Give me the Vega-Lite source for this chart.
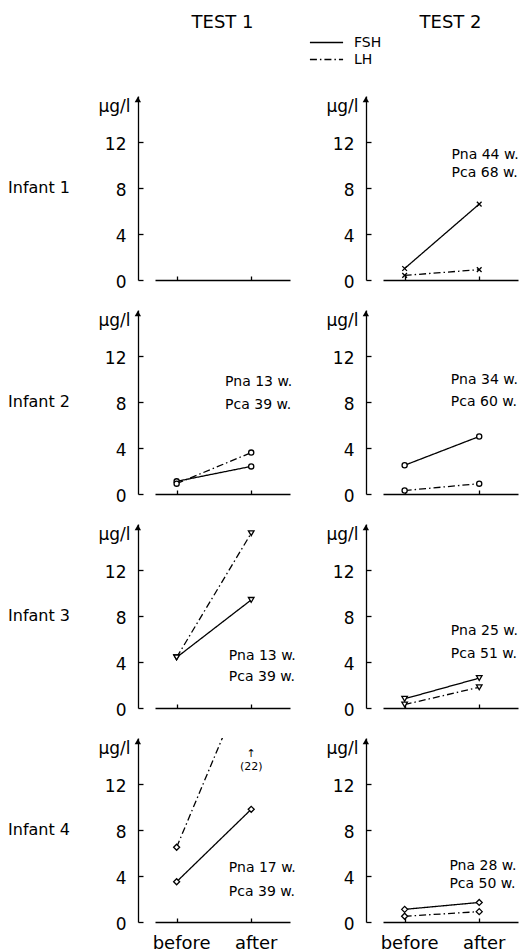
{
  "$schema": "https://vega.github.io/schema/vega-lite/v6.json",
  "background": "white",
  "padding": {"left": 8, "top": 14, "right": 0, "bottom": 0},
  "config": {
    "font": "DejaVu Sans",
    "view": {"stroke": null},
    "axis": {"grid": false, "domainColor": "black", "tickColor": "black", "labelColor": "black", "titleColor": "black", "domainWidth": 1.3, "tickWidth": 1.3},
    "header": {"labelColor": "black"}
  },
  "data": {"values": [
    {"kind": "panel", "infant": "Infant 1", "test": "TEST 1"},
    {"kind": "panel", "infant": "Infant 1", "test": "TEST 2"},
    {"kind": "panel", "infant": "Infant 2", "test": "TEST 1"},
    {"kind": "panel", "infant": "Infant 2", "test": "TEST 2"},
    {"kind": "panel", "infant": "Infant 3", "test": "TEST 1"},
    {"kind": "panel", "infant": "Infant 3", "test": "TEST 2"},
    {"kind": "panel", "infant": "Infant 4", "test": "TEST 1"},
    {"kind": "panel", "infant": "Infant 4", "test": "TEST 2"},
    {"kind": "pt", "infant": "Infant 1", "test": "TEST 2", "hormone": "FSH", "time": 0, "value": 1.0},
    {"kind": "pt", "infant": "Infant 1", "test": "TEST 2", "hormone": "FSH", "time": 1, "value": 6.6},
    {"kind": "pt", "infant": "Infant 1", "test": "TEST 2", "hormone": "LH", "time": 0, "value": 0.4},
    {"kind": "pt", "infant": "Infant 1", "test": "TEST 2", "hormone": "LH", "time": 1, "value": 0.9},
    {"kind": "pt", "infant": "Infant 2", "test": "TEST 1", "hormone": "FSH", "time": 0, "value": 1.1},
    {"kind": "pt", "infant": "Infant 2", "test": "TEST 1", "hormone": "FSH", "time": 1, "value": 2.4},
    {"kind": "pt", "infant": "Infant 2", "test": "TEST 1", "hormone": "LH", "time": 0, "value": 0.9},
    {"kind": "pt", "infant": "Infant 2", "test": "TEST 1", "hormone": "LH", "time": 1, "value": 3.6},
    {"kind": "pt", "infant": "Infant 2", "test": "TEST 2", "hormone": "FSH", "time": 0, "value": 2.5},
    {"kind": "pt", "infant": "Infant 2", "test": "TEST 2", "hormone": "FSH", "time": 1, "value": 5.0},
    {"kind": "pt", "infant": "Infant 2", "test": "TEST 2", "hormone": "LH", "time": 0, "value": 0.3},
    {"kind": "pt", "infant": "Infant 2", "test": "TEST 2", "hormone": "LH", "time": 1, "value": 0.9},
    {"kind": "pt", "infant": "Infant 3", "test": "TEST 1", "hormone": "FSH", "time": 0, "value": 4.4},
    {"kind": "pt", "infant": "Infant 3", "test": "TEST 1", "hormone": "FSH", "time": 1, "value": 9.4},
    {"kind": "pt", "infant": "Infant 3", "test": "TEST 1", "hormone": "LH", "time": 0, "value": 4.4},
    {"kind": "pt", "infant": "Infant 3", "test": "TEST 1", "hormone": "LH", "time": 1, "value": 15.2},
    {"kind": "pt", "infant": "Infant 3", "test": "TEST 2", "hormone": "FSH", "time": 0, "value": 0.8},
    {"kind": "pt", "infant": "Infant 3", "test": "TEST 2", "hormone": "FSH", "time": 1, "value": 2.6},
    {"kind": "pt", "infant": "Infant 3", "test": "TEST 2", "hormone": "LH", "time": 0, "value": 0.3},
    {"kind": "pt", "infant": "Infant 3", "test": "TEST 2", "hormone": "LH", "time": 1, "value": 1.8},
    {"kind": "pt", "infant": "Infant 4", "test": "TEST 1", "hormone": "FSH", "time": 0, "value": 3.5},
    {"kind": "pt", "infant": "Infant 4", "test": "TEST 1", "hormone": "FSH", "time": 1, "value": 9.8},
    {"kind": "pt", "infant": "Infant 4", "test": "TEST 1", "hormone": "LH", "time": 0, "value": 6.5},
    {"kind": "pt", "infant": "Infant 4", "test": "TEST 1", "hormone": "LH", "time": 1, "value": 22},
    {"kind": "pt", "infant": "Infant 4", "test": "TEST 2", "hormone": "FSH", "time": 0, "value": 1.1},
    {"kind": "pt", "infant": "Infant 4", "test": "TEST 2", "hormone": "FSH", "time": 1, "value": 1.7},
    {"kind": "pt", "infant": "Infant 4", "test": "TEST 2", "hormone": "LH", "time": 0, "value": 0.5},
    {"kind": "pt", "infant": "Infant 4", "test": "TEST 2", "hormone": "LH", "time": 1, "value": 0.9},
    {"kind": "note", "infant": "Infant 1", "test": "TEST 2", "time": 0.63, "value": 10.9, "label": "Pna 44 w."},
    {"kind": "note", "infant": "Infant 1", "test": "TEST 2", "time": 0.63, "value": 9.3, "label": "Pca 68 w."},
    {"kind": "note", "infant": "Infant 2", "test": "TEST 1", "time": 0.65, "value": 9.7, "label": "Pna 13 w."},
    {"kind": "note", "infant": "Infant 2", "test": "TEST 1", "time": 0.65, "value": 7.7, "label": "Pca 39 w."},
    {"kind": "note", "infant": "Infant 2", "test": "TEST 2", "time": 0.62, "value": 9.9, "label": "Pna 34 w."},
    {"kind": "note", "infant": "Infant 2", "test": "TEST 2", "time": 0.62, "value": 8.0, "label": "Pca 60 w."},
    {"kind": "note", "infant": "Infant 3", "test": "TEST 1", "time": 0.7, "value": 4.5, "label": "Pna 13 w."},
    {"kind": "note", "infant": "Infant 3", "test": "TEST 1", "time": 0.7, "value": 2.7, "label": "Pca 39 w."},
    {"kind": "note", "infant": "Infant 3", "test": "TEST 2", "time": 0.62, "value": 6.7, "label": "Pna 25 w."},
    {"kind": "note", "infant": "Infant 3", "test": "TEST 2", "time": 0.62, "value": 4.7, "label": "Pca 51 w."},
    {"kind": "note", "infant": "Infant 4", "test": "TEST 1", "time": 0.7, "value": 4.7, "label": "Pna 17 w."},
    {"kind": "note", "infant": "Infant 4", "test": "TEST 1", "time": 0.7, "value": 2.6, "label": "Pca 39 w."},
    {"kind": "note", "infant": "Infant 4", "test": "TEST 2", "time": 0.6, "value": 4.9, "label": "Pna 28 w."},
    {"kind": "note", "infant": "Infant 4", "test": "TEST 2", "time": 0.6, "value": 3.3, "label": "Pca 50 w."},
    {"kind": "off", "infant": "Infant 4", "test": "TEST 1", "time": 1, "value": 14.6, "label": "↑"},
    {"kind": "off", "infant": "Infant 4", "test": "TEST 1", "time": 1, "value": 13.5, "label": "(22)"},
    {"kind": "xlab", "infant": "Infant 4", "test": "TEST 1", "time": 0, "label": "before"},
    {"kind": "xlab", "infant": "Infant 4", "test": "TEST 1", "time": 1, "label": "after"},
    {"kind": "xlab", "infant": "Infant 4", "test": "TEST 2", "time": 0, "label": "before"},
    {"kind": "xlab", "infant": "Infant 4", "test": "TEST 2", "time": 1, "label": "after"}
  ]},
  "facet": {
    "row": {"field": "infant", "type": "nominal", "title": null,
      "header": {"labelAngle": 0, "labelAlign": "right", "labelFontSize": 16, "labelPadding": 23}},
    "column": {"field": "test", "type": "nominal", "title": null,
      "header": {"labelFontSize": 18, "labelPadding": 64}}
  },
  "spacing": {"row": 30, "column": 93},
  "bounds": "flush",
  "resolve": {"axis": {"x": "independent", "y": "independent"}},
  "spec": {
    "width": 135,
    "height": 184,
    "layer": [
      {
        "transform": [{"filter": "datum.kind == 'pt'"}],
        "mark": {"type": "line", "color": "black", "strokeWidth": 1.3, "clip": true},
        "encoding": {
          "x": {"field": "time", "type": "quantitative",
            "scale": {"domain": [-0.29, 1.52], "nice": false, "zero": false},
            "axis": {"title": null, "labels": false, "values": [0, 1], "tickSize": -4}},
          "y": {"field": "value", "type": "quantitative",
            "scale": {"domain": [0, 16], "nice": false},
            "axis": {"title": "μg/l", "titleAngle": 0, "titleAlign": "right", "titleBaseline": "middle", "titleX": -8, "titleY": 10, "titleFontSize": 17, "titleFontWeight": "normal", "offset": 17, "values": [0, 2, 4, 6, 8, 10, 12, 14], "labelExpr": "datum.value % 4 == 0 ? datum.label : ''", "tickSize": -5, "labelPadding": 17, "labelOffset": 2, "labelFontSize": 17}},
          "strokeDash": {"field": "hormone", "type": "nominal",
            "scale": {"domain": ["FSH", "LH"], "range": [[1, 0], [7, 3, 1.5, 3]]},
            "legend": {"title": null, "orient": "none", "legendX": 154, "legendY": -62, "symbolType": "stroke", "symbolSize": 1100, "symbolStrokeWidth": 1.3, "symbolStrokeColor": "black", "labelFontSize": 14, "labelOffset": 10, "clipHeight": 17, "rowPadding": 0}},
          "detail": {"field": "hormone"}
        }
      },
      {
        "transform": [{"filter": "datum.kind == 'pt' && datum.value <= 16"}],
        "mark": {"type": "point", "filled": true, "fill": "white", "stroke": "black", "strokeWidth": 1.3, "opacity": 1},
        "encoding": {
          "x": {"field": "time", "type": "quantitative"},
          "y": {"field": "value", "type": "quantitative"},
          "shape": {"field": "infant", "type": "nominal",
            "scale": {"domain": ["Infant 1", "Infant 2", "Infant 3", "Infant 4"], "range": ["M-1,-1L1,1M1,-1L-1,1", "circle", "triangle-down", "diamond"]}, "legend": null},
          "size": {"field": "infant", "type": "ordinal",
            "scale": {"domain": ["Infant 1", "Infant 2", "Infant 3", "Infant 4"], "range": [22, 36, 60, 90]}, "legend": null}
        }
      },
      {
        "transform": [{"filter": "datum.kind == 'note'"}],
        "mark": {"type": "text", "align": "left", "baseline": "middle", "fontSize": 14, "color": "black"},
        "encoding": {
          "x": {"field": "time", "type": "quantitative"},
          "y": {"field": "value", "type": "quantitative"},
          "text": {"field": "label"}
        }
      },
      {
        "transform": [{"filter": "datum.kind == 'off'"}],
        "mark": {"type": "text", "align": "center", "baseline": "middle", "fontSize": 11, "color": "black"},
        "encoding": {
          "x": {"field": "time", "type": "quantitative"},
          "y": {"field": "value", "type": "quantitative"},
          "text": {"field": "label"}
        }
      },
      {
        "transform": [{"filter": "datum.kind == 'xlab'"}],
        "mark": {"type": "text", "align": "center", "baseline": "middle", "fontSize": 18, "color": "black", "dx": 5},
        "encoding": {
          "x": {"field": "time", "type": "quantitative"},
          "y": {"datum": -1.9},
          "text": {"field": "label"}
        }
      },
      {
        "transform": [{"filter": "datum.kind == 'panel'"}],
        "mark": {"type": "point", "shape": "triangle-up", "filled": true, "color": "black", "size": 40, "opacity": 1},
        "encoding": {
          "x": {"datum": -0.52},
          "y": {"datum": 15.7}
        }
      }
    ]
  }
}
